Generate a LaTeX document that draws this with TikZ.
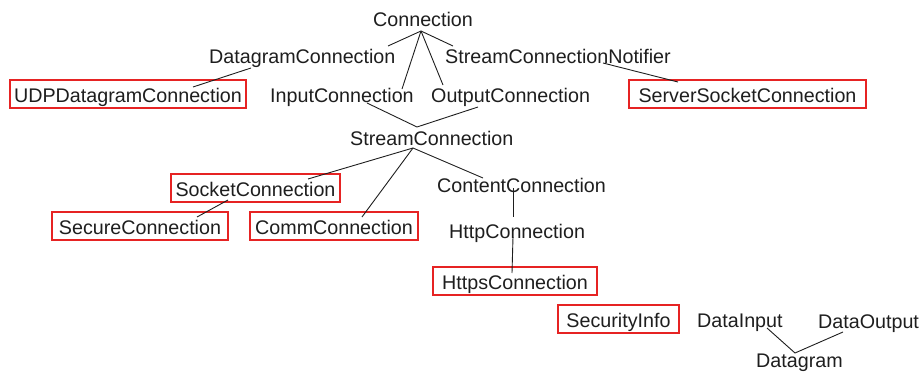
\documentclass[tikz,border=0pt]{standalone}
\usepackage{fontspec}
\setmainfont{Liberation Sans}
\definecolor{boxred}{RGB}{230,35,35}
\definecolor{ink}{RGB}{30,30,30}
\begin{document}
\begin{tikzpicture}[x=1pt,y=-1pt,
  lbl/.style={inner sep=0pt, anchor=base west, text height=14pt, text depth=4pt, text=ink,
    font=\fontsize{19.7}{22}\selectfont},
  cls/.style={draw=boxred, line width=1.2pt, inner xsep=0pt, inner ysep=3pt, text height=19pt,
    text depth=3pt, anchor=base, text=ink, font=\fontsize{19.7}{22}\selectfont},
  link/.style={draw=ink, line width=0.9pt}]
\useasboundingbox (0,0) rectangle (922,375);
% plain labels
\node[lbl] (conn) at (373,26) {Connection};
\node[lbl] (dgc) at (209,63) {DatagramConnection};
\node[lbl] (scn) at (445,63) {StreamConnectionNotifier};
\node[lbl] (inp) at (270,102) {InputConnection};
\node[lbl] (outp) at (431,102) {OutputConnection};
\node[lbl] (strc) at (350,145) {StreamConnection};
\node[lbl] (cont) at (437,192) {ContentConnection};
\node[lbl] (http) at (449,238) {HttpConnection};
\node[lbl] (din) at (697,327) {DataInput};
\node[lbl] (dout) at (818,328) {DataOutput};
\node[lbl] (dgram) at (756,367) {Datagram};
% boxed classes
\node[cls, minimum width=236pt] (udp) at (128,102) {UDPDatagramConnection};
\node[cls, minimum width=237pt] (ssc) at (747.5,102) {ServerSocketConnection};
\node[cls, minimum width=169pt] (sock) at (255.5,196) {SocketConnection};
\node[cls, minimum width=176pt] (sec) at (140,234) {SecureConnection};
\node[cls, minimum width=168pt] (comm) at (334,234) {CommConnection};
\node[cls, minimum width=164pt] (https) at (515,289) {HttpsConnection};
\node[cls, minimum width=121pt] (sinfo) at (618.5,327) {SecurityInfo};
% attachment points
\coordinate (conn-b) at (421,31);
\coordinate (dgc-t) at (388,46);
\coordinate (inp-t) at (402,89);
\coordinate (outp-t) at (443,85);
\coordinate (scn-t) at (453,46);
\coordinate (dgc-b) at (251,68);
\coordinate (udp-t) at (193,87);
\coordinate (scn-b) at (603,63);
\coordinate (ssc-t) at (678,82);
\coordinate (inp-b) at (367,103);
\coordinate (outp-b) at (478,107);
\coordinate (strc-t) at (417,127);
\coordinate (strc-b) at (413,148);
\coordinate (sock-t) at (308,179);
\coordinate (comm-t) at (362,217);
\coordinate (cont-t) at (483,178);
\coordinate (sock-b) at (228,200);
\coordinate (sec-t) at (197,217);
\coordinate (cont-b) at (513,188);
\coordinate (http-t) at (513,217);
\coordinate (http-b) at (513,237);
\coordinate (https-t) at (512,273);
\coordinate (din-b) at (767,328);
\coordinate (dout-b) at (843,332);
\coordinate (dgram-t) at (795,353);
% connectors
\draw[link] (conn-b) -- (dgc-t);
\draw[link] (conn-b) -- (inp-t);
\draw[link] (conn-b) -- (outp-t);
\draw[link] (conn-b) -- (scn-t);
\draw[link] (dgc-b) -- (udp-t);
\draw[link] (scn-b) -- (ssc-t);
\draw[link] (inp-b) -- (strc-t) -- (outp-b);
\draw[link] (strc-b) -- (sock-t);
\draw[link] (strc-b) -- (comm-t);
\draw[link] (strc-b) -- (cont-t);
\draw[link] (sock-b) -- (sec-t);
\draw[link] (cont-b) -- (http-t);
\draw[link] (http-b) -- (https-t);
\draw[link] (din-b) -- (dgram-t) -- (dout-b);
\end{tikzpicture}
\end{document}
